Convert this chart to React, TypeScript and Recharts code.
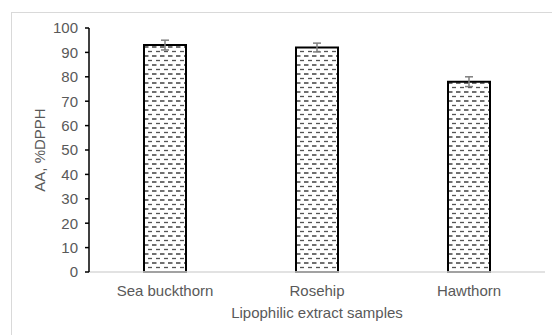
import { BarChart, Bar, XAxis, YAxis, ErrorBar, Label } from "recharts";

const samples = ["Sea buckthorn", "Rosehip", "Hawthorn"];
const activity = [93, 92, 78];
const errors = [2, 1.8, 2];
const yTicks = [0, 10, 20, 30, 40, 50, 60, 70, 80, 90, 100];

const data = samples.map((name, i) => ({ name, value: activity[i], err: errors[i] }));

const textColor = "#595959";
const font = "'Liberation Sans', Arial, sans-serif";
const fs = 15;

export default function App() {
  return (
    <div
      style={{
        position: "absolute",
        left: 0,
        top: 0,
        width: 552,
        height: 335,
        overflow: "hidden",
        background: "#fff",
        fontFamily: font,
      }}
    >
      {/* chart frame, runs off the right and bottom edge */}
      <div
        style={{
          position: "absolute",
          left: 11,
          top: 12,
          width: 700,
          height: 500,
          border: "1.5px solid #d9d9d9",
        }}
      />
      <div style={{ position: "absolute", left: 0, top: 0 }}>
        <BarChart
          width={552}
          height={335}
          data={data}
          margin={{ top: 28, right: 7, left: 10, bottom: 0 }}
          barSize={42}
        >
          <defs>
            <pattern id="dashH" width="8" height="9" patternUnits="userSpaceOnUse">
              <rect width="8" height="9" fill="#fff" />
              <line x1="0" y1="2" x2="4.5" y2="2" stroke="#222" strokeWidth="1.3" />
              <line x1="4" y1="6.5" x2="8" y2="6.5" stroke="#555" strokeWidth="1.3" />
            </pattern>
          </defs>
          <XAxis
            dataKey="name"
            height={63}
            tickLine={false}
            tickSize={0}
            tickMargin={13}
            axisLine={{ stroke: "#d9d9d9", strokeWidth: 1.5 }}
            tick={{ fill: textColor, fontSize: fs, fontFamily: font }}
          >
            <Label
              value="Lipophilic extract samples"
              position="insideBottom"
              offset={17}
              style={{ fill: textColor, fontSize: fs, fontFamily: font }}
            />
          </XAxis>
          <YAxis
            width={79}
            domain={[0, 100]}
            ticks={yTicks}
            interval={0}
            tickSize={4}
            tickMargin={7}
            axisLine={{ stroke: "#000", strokeWidth: 1.5 }}
            tickLine={{ stroke: "#000", strokeWidth: 1.5 }}
            tick={{ fill: textColor, fontSize: fs, fontFamily: font }}
          >
            <Label
              value="AA, %DPPH"
              angle={-90}
              position="insideLeft"
              dx={25}
              style={{ fill: textColor, fontSize: fs, fontFamily: font, textAnchor: "middle" }}
            />
          </YAxis>
          <Bar
            dataKey="value"
            fill="url(#dashH)"
            stroke="#000"
            strokeWidth={2}
            isAnimationActive={false}
          >
            <ErrorBar dataKey="err" width={4} stroke="#7f7f7f" strokeWidth={1.5} />
          </Bar>
        </BarChart>
      </div>
    </div>
  );
}
